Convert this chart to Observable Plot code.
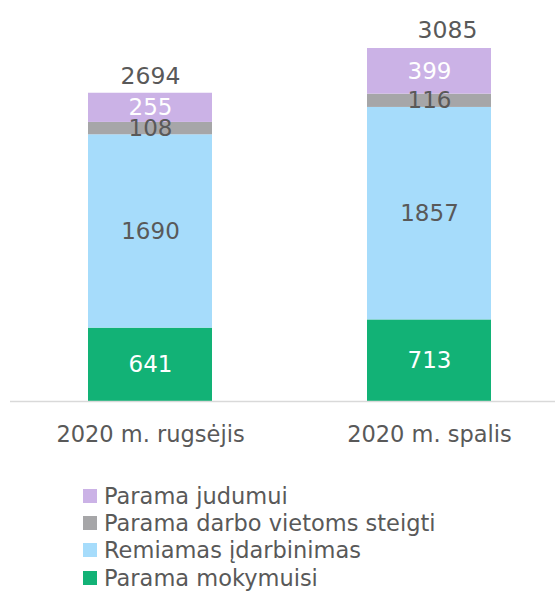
<!DOCTYPE html>
<html>
<head>
<meta charset="utf-8">
<script src="https://cdn.jsdelivr.net/npm/d3@7"></script>
<script src="https://cdn.jsdelivr.net/npm/@observablehq/plot@0.6"></script>
<style>
  html, body { margin: 0; padding: 0; background: #fff; }
  body { width: 555px; font-family: "DejaVu Sans", sans-serif; color: #595959; }
  #legend { margin-left: 83px; margin-top: 22px; }
  .row { display: flex; align-items: center; height: 27.3px; font-size: 22.5px; color: #595959; white-space: nowrap; }
  .sw { width: 14px; height: 14px; margin-right: 7px; }
</style>
</head>
<body>
<div id="chart"></div>
<div id="legend"></div>
<script>
const months = ["2020 m. rugsėjis", "2020 m. spalis"];
const series = ["Parama mokymuisi", "Remiamas įdarbinimas", "Parama darbo vietoms steigti", "Parama judumui"];
const colors = ["#12b276", "#a6dcfb", "#a6a6a8", "#cbb2e6"];
const values = {
  "Parama mokymuisi": [641, 713],
  "Remiamas įdarbinimas": [1690, 1857],
  "Parama darbo vietoms steigti": [108, 116],
  "Parama judumui": [255, 399]
};
const totals = [2694, 3085];
const whiteLabels = ["Parama mokymuisi", "Parama judumui"];

const data = [];
months.forEach((m, i) => {
  let acc = 0;
  series.forEach(s => {
    const v = values[s][i];
    data.push({month: m, series: s, value: v, lo: acc, hi: acc + v});
    acc += v;
  });
});
const totalData = months.map((m, i) => ({month: m, total: totals[i]}));

const font = "'DejaVu Sans', sans-serif";
const chart = Plot.plot({
  width: 555,
  height: 460,
  marginTop: 48,
  marginBottom: 59,
  marginLeft: 10,
  marginRight: 0,
  style: {fontFamily: font, color: "#595959", background: "#fff"},
  x: {domain: months, range: [17, 562], paddingInner: 0.556, paddingOuter: 0.253, label: null, axis: null},
  y: {domain: [0, 3085], axis: null},
  color: {domain: series, range: colors},
  marks: [
    Plot.barY(data, {x: "month", y1: "lo", y2: "hi", fill: "series"}),
    Plot.ruleY([0], {stroke: "#d9d9d9", strokeWidth: 1.5}),
    Plot.text(data.filter(d => whiteLabels.includes(d.series)), {x: "month", y: d => (d.lo + d.hi) / 2, text: d => String(d.value), fill: "#ffffff", fontSize: 23}),
    Plot.text(data.filter(d => !whiteLabels.includes(d.series)), {x: "month", y: d => (d.lo + d.hi) / 2, text: d => String(d.value), fill: "#595959", fontSize: 23}),
    Plot.text(totalData.slice(0, 1), {x: "month", y: "total", text: d => String(d.total), lineAnchor: "bottom", dy: -9, fill: "#595959", fontSize: 23.5}),
    Plot.text(totalData.slice(1), {x: "month", y: "total", text: d => String(d.total), lineAnchor: "bottom", dy: -11, dx: 18, fill: "#595959", fontSize: 23.5}),
    Plot.axisX({tickSize: 0, tickPadding: 25, fontSize: 22.5, fill: "#595959", label: null})
  ]
});
document.getElementById("chart").appendChild(chart);

const legend = document.getElementById("legend");
series.slice().reverse().forEach(s => {
  const row = document.createElement("div");
  row.className = "row";
  const sw = document.createElement("div");
  sw.className = "sw";
  sw.style.background = colors[series.indexOf(s)];
  const t = document.createElement("span");
  t.textContent = s;
  row.appendChild(sw);
  row.appendChild(t);
  legend.appendChild(row);
});
</script>
</body>
</html>
